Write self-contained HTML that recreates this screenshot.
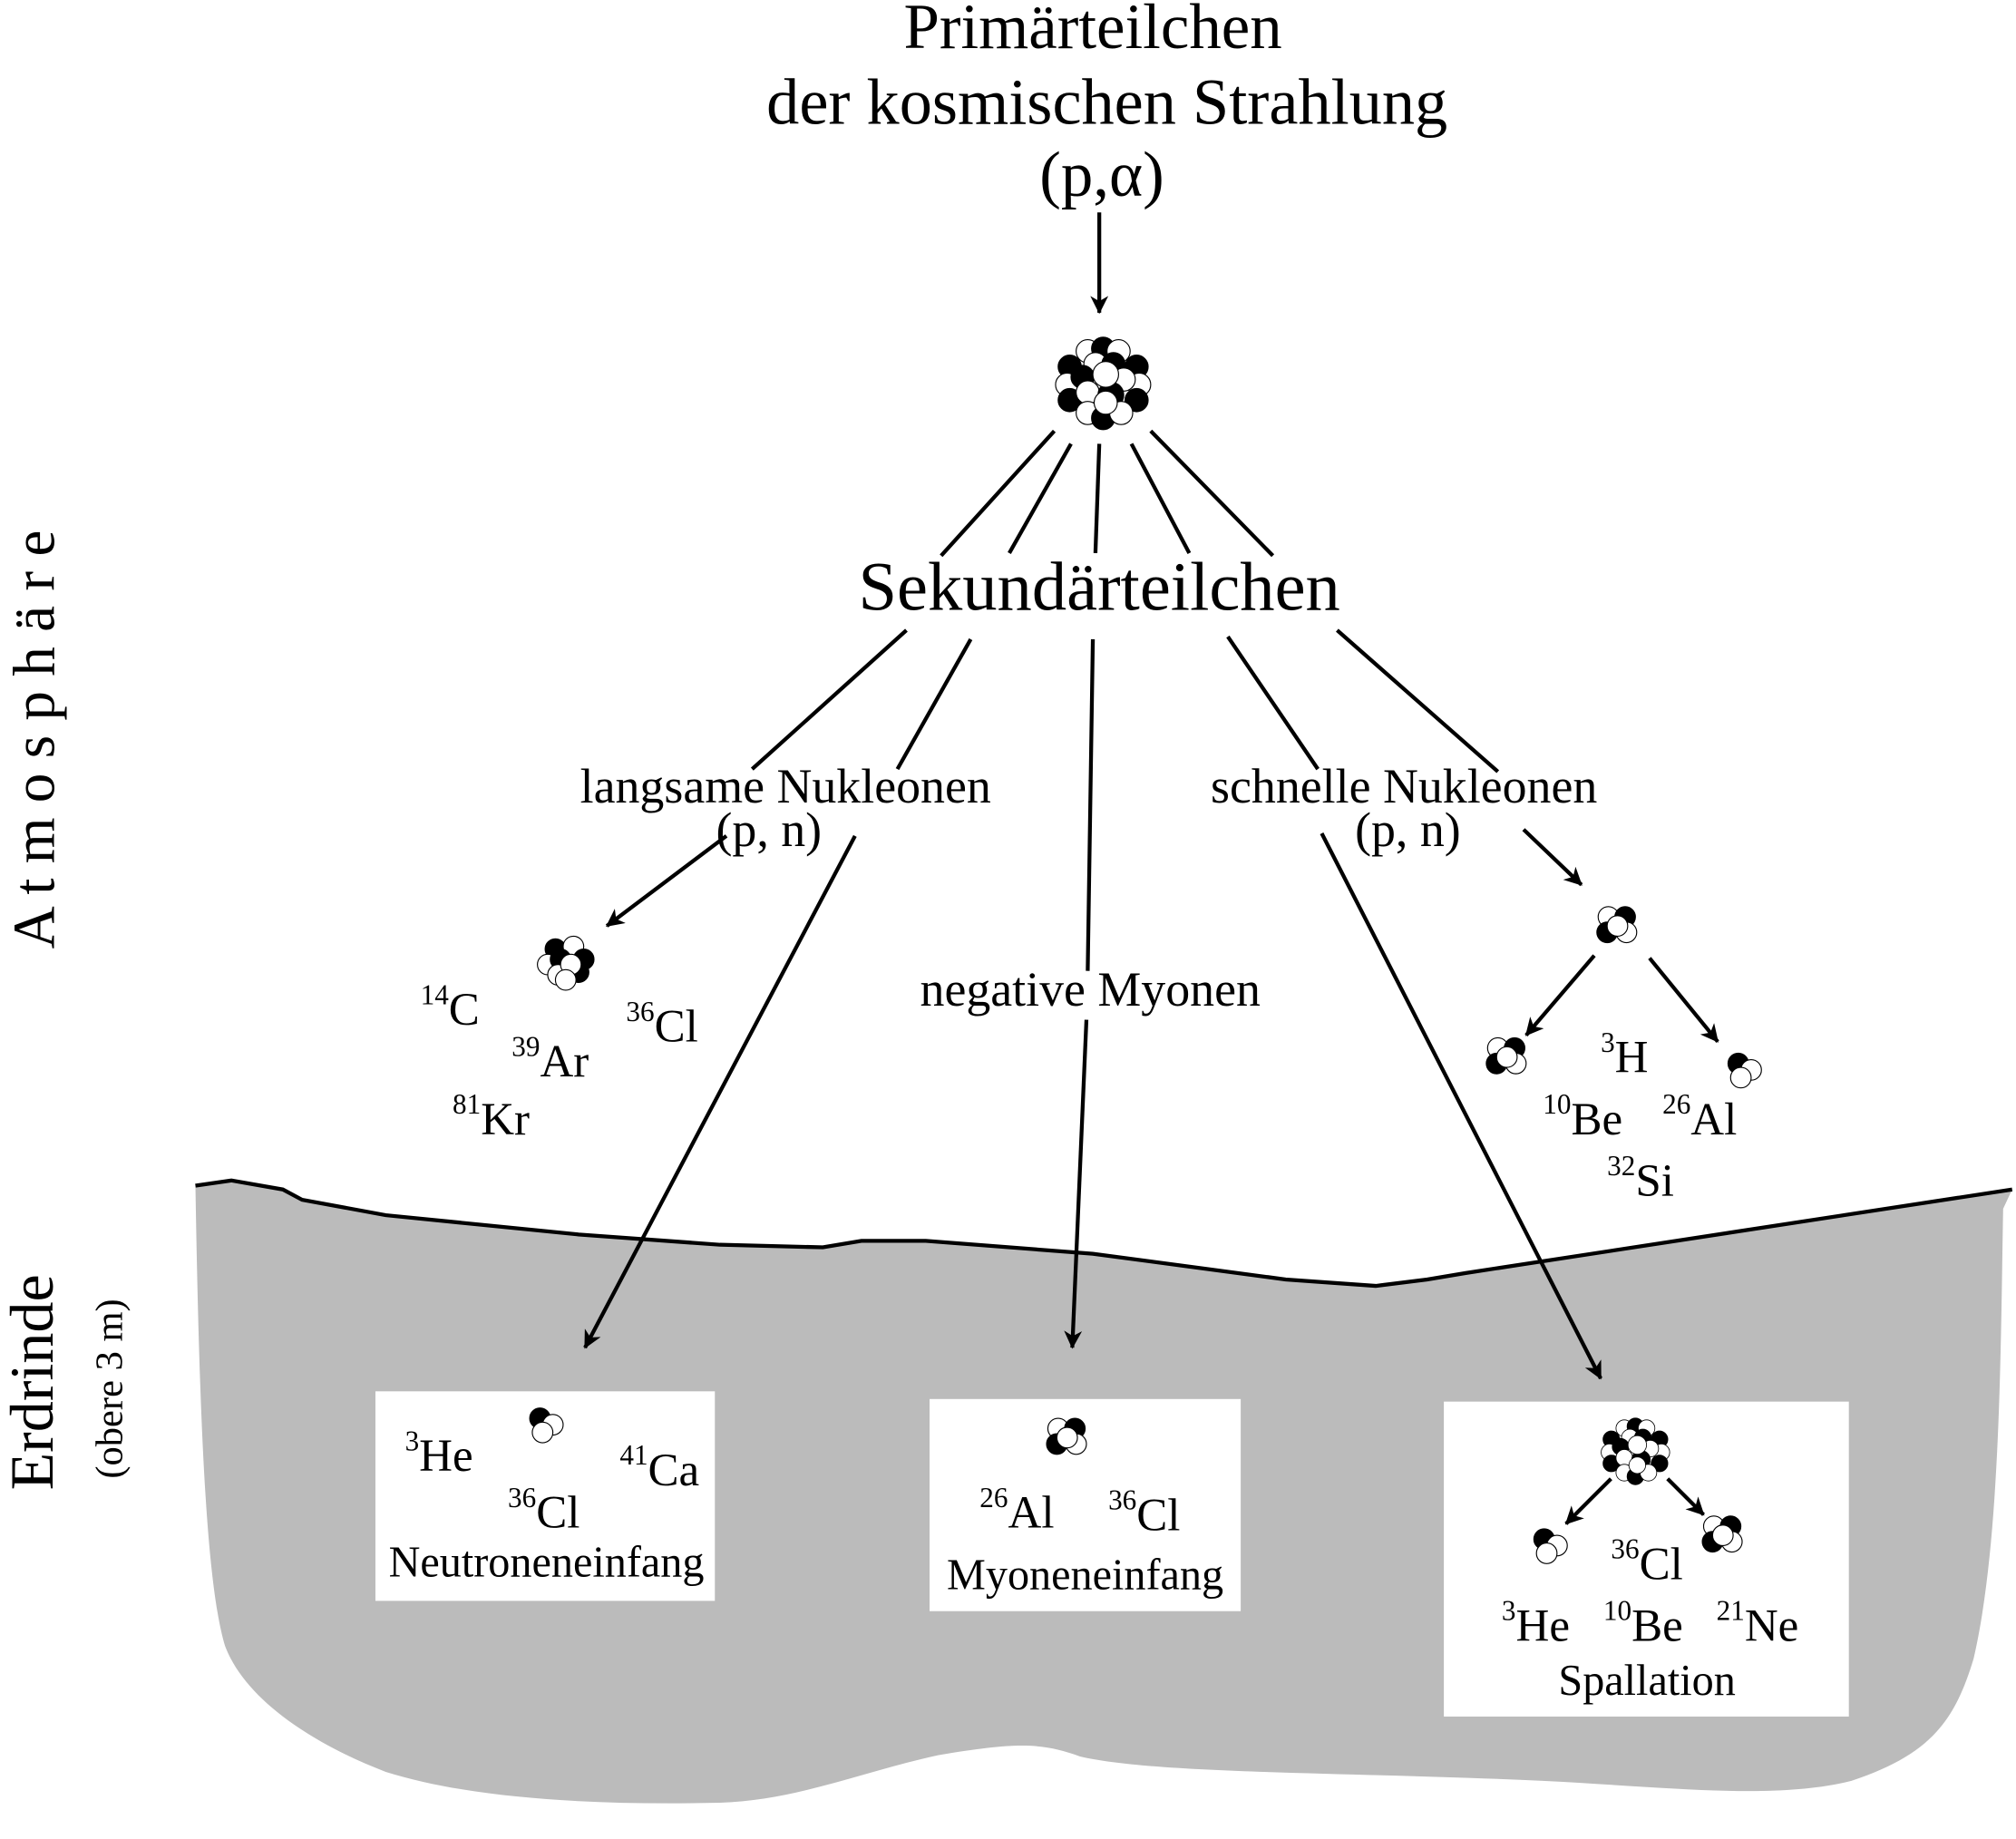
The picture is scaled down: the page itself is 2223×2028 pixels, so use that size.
<!DOCTYPE html>
<html><head><meta charset="utf-8"><style>
html,body{margin:0;padding:0;background:#fff}
svg{display:block}
text{font-family:"Liberation Serif",serif;fill:#000}
</style></head><body>
<svg width="2223" height="2028" viewBox="0 0 1568 1430" xmlns="http://www.w3.org/2000/svg">
<defs>
<marker id="ah" markerWidth="14" markerHeight="14" refX="13" refY="7" orient="auto" markerUnits="userSpaceOnUse" viewBox="0 0 14 14">
<path d="M0,0 L14,7 L0,14 L4,7 Z" fill="#000"/></marker>
<g id="nucBig" stroke="#000" stroke-width="0.8">
<circle cx="-12" cy="-24" r="9" fill="#fff"/><circle cx="0" cy="-26" r="9" fill="#000"/><circle cx="12" cy="-24" r="9" fill="#fff"/>
<circle cx="-26" cy="-12" r="9" fill="#000"/><circle cx="26" cy="-12" r="9" fill="#000"/>
<circle cx="-6" cy="-14" r="9" fill="#fff"/><circle cx="8" cy="-14" r="9" fill="#000"/>
<circle cx="-28" cy="2" r="9" fill="#fff"/><circle cx="28" cy="2" r="9" fill="#fff"/>
<circle cx="-16" cy="-4" r="9" fill="#000"/><circle cx="16" cy="-2" r="9" fill="#fff"/>
<circle cx="-26" cy="14" r="9" fill="#000"/><circle cx="26" cy="14" r="9" fill="#000"/>
<circle cx="-12" cy="8" r="9" fill="#fff"/><circle cx="6" cy="10" r="10" fill="#000"/>
<circle cx="-12" cy="24" r="9" fill="#fff"/><circle cx="0" cy="28" r="9" fill="#000"/><circle cx="14" cy="24" r="9" fill="#fff"/>
<circle cx="2" cy="16" r="9" fill="#fff"/><circle cx="2" cy="-6" r="10" fill="#fff"/>
</g>
<g id="nucMed" stroke="#000" stroke-width="0.8">
<circle cx="-8" cy="-10" r="8" fill="#000"/><circle cx="6" cy="-12" r="8" fill="#fff"/><circle cx="14" cy="-2" r="8" fill="#000"/>
<circle cx="-14" cy="2" r="8" fill="#fff"/><circle cx="-4" cy="-2" r="8" fill="#000"/><circle cx="10" cy="8" r="8" fill="#000"/>
<circle cx="-6" cy="10" r="8" fill="#fff"/><circle cx="4" cy="2" r="8" fill="#fff"/><circle cx="0" cy="14" r="8" fill="#fff"/>
</g>
<g id="nucSm" stroke="#000" stroke-width="0.8">
<circle cx="-7" cy="-7" r="8" fill="#fff"/><circle cx="6" cy="-7" r="8" fill="#000"/>
<circle cx="-8" cy="5" r="8" fill="#000"/><circle cx="7" cy="5" r="8" fill="#fff"/><circle cx="0" cy="0" r="8" fill="#fff"/>
</g>
<g id="nucTiny" stroke="#000" stroke-width="0.8">
<circle cx="-5" cy="-5" r="8" fill="#000"/><circle cx="5" cy="0" r="8" fill="#fff"/><circle cx="-3" cy="6" r="8" fill="#fff"/>
</g>
</defs>

<path d="M152,922 L180,918 L220,925 L235,933 L300,945 L450,960 L560,968 L640,970 L670,965 L720,965 L850,975 L1000,995 L1070,1000 L1110,995 L1140,990 L1565,925 L1558,940 C1556,1050 1556,1200 1535,1290 C1520,1340 1500,1365 1440,1385 C1380,1400 1300,1390 1200,1385 C1050,1378 900,1380 840,1366 C810,1355 790,1355 730,1365 C670,1378 620,1400 560,1402 C470,1404 370,1400 300,1378 C240,1355 190,1320 175,1280 C160,1230 155,1100 152,922 Z" fill="#bbbbbb"/>
<path d="M152,922 L180,918 L220,925 L235,933 L300,945 L450,960 L560,968 L640,970 L670,965 L720,965 L850,975 L1000,995 L1070,1000 L1110,995 L1140,990 L1565,925" fill="none" stroke="#000" stroke-width="3"/>

<rect x="292" y="1082" width="264" height="163" fill="#fff"/>
<rect x="723" y="1088" width="242" height="165" fill="#fff"/>
<rect x="1123" y="1090" width="315" height="245" fill="#fff"/>

<text x="850" y="37" font-size="50" text-anchor="middle">Primärteilchen</text>
<text x="861" y="96" font-size="51" text-anchor="middle">der kosmischen Strahlung</text>
<text x="857" y="152" font-size="50" text-anchor="middle">(p,α)</text>
<line x1="855" y1="165" x2="855" y2="243" stroke="#000" stroke-width="3" marker-end="url(#ah)"/>
<use href="#nucBig" x="858" y="297"/>

<g stroke="#000" stroke-width="3" fill="none">
<line x1="820" y1="335" x2="732" y2="432"/>
<line x1="833" y1="345" x2="785" y2="430"/>
<line x1="855" y1="345" x2="852" y2="430"/>
<line x1="880" y1="345" x2="925" y2="430"/>
<line x1="895" y1="335" x2="990" y2="432"/>
<line x1="705" y1="490" x2="585" y2="598"/>
<line x1="755" y1="497" x2="698" y2="598"/>
<line x1="955" y1="495" x2="1025" y2="598"/>
<line x1="1040" y1="490" x2="1165" y2="600"/>
<line x1="850" y1="497" x2="846" y2="755"/>
<line x1="845" y1="793" x2="834" y2="1048" marker-end="url(#ah)"/>
<line x1="565" y1="650" x2="472" y2="720" marker-end="url(#ah)"/>
<line x1="665" y1="650" x2="455" y2="1048" marker-end="url(#ah)"/>
<line x1="1185" y1="645" x2="1230" y2="688" marker-end="url(#ah)"/>
<line x1="1028" y1="648" x2="1245" y2="1072" marker-end="url(#ah)"/>
<line x1="1240" y1="743" x2="1187" y2="805" marker-end="url(#ah)"/>
<line x1="1283" y1="745" x2="1336" y2="810" marker-end="url(#ah)"/>
<line x1="1253" y1="1150" x2="1218" y2="1185" marker-end="url(#ah)"/>
<line x1="1297" y1="1150" x2="1325" y2="1178" marker-end="url(#ah)"/>
</g>

<text x="855" y="474" font-size="54" text-anchor="middle">Sekundärteilchen</text>
<text x="611" y="624" font-size="38" text-anchor="middle">langsame Nukleonen</text>
<text x="598" y="658" font-size="38" text-anchor="middle">(p, n)</text>
<text x="1092" y="624" font-size="38" text-anchor="middle">schnelle Nukleonen</text>
<text x="1095" y="658" font-size="38" text-anchor="middle">(p, n)</text>
<text x="848" y="782" font-size="38" text-anchor="middle">negative Myonen</text>

<use href="#nucMed" x="440" y="748"/>
<g font-size="36">
<text><tspan x="327" y="797" font-size="22" dy="-16">14</tspan><tspan dy="16">C</tspan></text>
<text><tspan x="398" y="837" font-size="22" dy="-16">39</tspan><tspan dy="16">Ar</tspan></text>
<text><tspan x="487" y="810" font-size="22" dy="-16">36</tspan><tspan dy="16">Cl</tspan></text>
<text><tspan x="352" y="882" font-size="22" dy="-16">81</tspan><tspan dy="16">Kr</tspan></text>
</g>

<use href="#nucSm" x="1258" y="720"/>
<use href="#nucSm" x="1172" y="822"/>
<use href="#nucTiny" x="1357" y="832"/>
<g font-size="36">
<text><tspan x="1245" y="834" font-size="22" dy="-16">3</tspan><tspan dy="16">H</tspan></text>
<text><tspan x="1200" y="882" font-size="22" dy="-16">10</tspan><tspan dy="16">Be</tspan></text>
<text><tspan x="1293" y="882" font-size="22" dy="-16">26</tspan><tspan dy="16">Al</tspan></text>
<text><tspan x="1250" y="930" font-size="22" dy="-16">32</tspan><tspan dy="16">Si</tspan></text>

<text><tspan x="315" y="1144" font-size="22" dy="-16">3</tspan><tspan dy="16">He</tspan></text>
<text><tspan x="482" y="1155" font-size="22" dy="-16">41</tspan><tspan dy="16">Ca</tspan></text>
<text><tspan x="395" y="1188" font-size="22" dy="-16">36</tspan><tspan dy="16">Cl</tspan></text>
<text><tspan x="762" y="1188" font-size="22" dy="-16">26</tspan><tspan dy="16">Al</tspan></text>
<text><tspan x="862" y="1190" font-size="22" dy="-16">36</tspan><tspan dy="16">Cl</tspan></text>
<text><tspan x="1253" y="1228" font-size="22" dy="-16">36</tspan><tspan dy="16">Cl</tspan></text>
<text><tspan x="1168" y="1276" font-size="22" dy="-16">3</tspan><tspan dy="16">He</tspan></text>
<text><tspan x="1247" y="1276" font-size="22" dy="-16">10</tspan><tspan dy="16">Be</tspan></text>
<text><tspan x="1335" y="1276" font-size="22" dy="-16">21</tspan><tspan dy="16">Ne</tspan></text>
</g>
<use href="#nucTiny" x="425" y="1108"/>
<text x="425" y="1226" font-size="34" text-anchor="middle">Neutroneneinfang</text>
<use href="#nucSm" x="830" y="1118"/>
<text x="844" y="1236" font-size="34" text-anchor="middle">Myoneneinfang</text>
<use href="#nucBig" transform="translate(1272 1128) scale(0.72)"/>
<use href="#nucTiny" x="1206" y="1202"/>
<use href="#nucSm" x="1340" y="1194"/>
<text x="1281" y="1318" font-size="34" text-anchor="middle">Spallation</text>

<text font-size="46" text-anchor="middle" transform="translate(42 575) rotate(-90)">A t m o s p h ä r e</text>
<text font-size="48" text-anchor="middle" transform="translate(41 1075) rotate(-90)">Erdrinde</text>
<text font-size="30" text-anchor="middle" transform="translate(95 1080) rotate(-90)">(obere 3 m)</text>
</svg>
</body></html>
